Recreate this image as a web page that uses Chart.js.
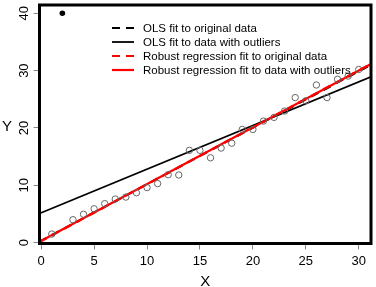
<!DOCTYPE html>
<html>
<head>
<meta charset="utf-8">
<script src="https://cdn.jsdelivr.net/npm/chart.js"></script>
<style>
  body { margin: 0; background: #fff; }
</style>
</head>
<body>
<canvas id="fitChart" width="376" height="287"></canvas>
<script>
// data
const xVals = [1, 3, 4, 5, 6, 7, 8, 9, 10, 11, 12, 13, 14, 15, 16, 17, 18, 19, 20, 21, 22, 23, 24, 25, 26, 27, 28, 29, 30];
const yVals = [1.5, 4.0, 4.95, 5.9, 6.8, 7.6, 7.95, 8.7, 9.6, 10.3, 11.85, 11.8, 16.1, 16.1, 14.8, 16.5, 17.35, 19.75, 19.75, 21.2, 21.85, 22.95, 25.3, 24.75, 27.5, 25.3, 28.5, 29.05, 30.2];
const outlierX = [2];
const outlierY = [40];

// fit lines, end points at the plot edges
const fitX = [-0.16, 31.16];
const olsOrigY = [0.2, 31.0];
const olsOutY = [5.08, 28.94];
const robOrigY = [0.1, 31.2];
const robOutY = [0.14, 31.15];

const legendLabels = [
  'OLS fit to original data',
  'OLS fit to data with outliers',
  'Robust regression fit to original data',
  'Robust regression fit to data with outliers'
];
const xTicks = [0, 5, 10, 15, 20, 25, 30];
const yTicks = [0, 10, 20, 30, 40];

function pts(xs, ys) {
  return xs.map(function(x, i) { return {x: x, y: ys[i]}; });
}

function fitLine(label, ys, color, width, dash, order) {
  return {
    label: label,
    data: pts(fitX, ys),
    showLine: true,
    borderColor: color,
    borderWidth: width,
    borderDash: dash,
    pointRadius: 0,
    fill: false,
    order: order
  };
}

const lineSets = [
  fitLine(legendLabels[0], olsOrigY, '#000', 1.8, [8, 6], 5),
  fitLine(legendLabels[1], olsOutY, '#000', 1.8, [], 4),
  fitLine(legendLabels[2], robOrigY, '#ff0000', 2.2, [8, 6], 3),
  fitLine(legendLabels[3], robOutY, '#ff0000', 2.2, [], 2)
];

const boxAndLegend = {
  id: 'boxAndLegend',
  afterDatasetsDraw: function(chart) {
    const a = chart.chartArea;
    const ctx = chart.ctx;
    ctx.save();
    ctx.strokeStyle = '#000';
    ctx.lineWidth = 3;
    ctx.strokeRect(a.left, a.top, a.right - a.left, a.bottom - a.top);
    ctx.restore();
  },
  afterDraw: function(chart) {
    const ctx = chart.ctx;
    ctx.save();
    ctx.font = '11.5px "Liberation Sans", Arial, sans-serif';
    ctx.textBaseline = 'middle';
    ctx.textAlign = 'left';
    lineSets.forEach(function(ds, i) {
      const y = 28 + i * 14;
      ctx.strokeStyle = ds.borderColor;
      ctx.lineWidth = ds.borderWidth;
      ctx.setLineDash(ds.borderDash);
      ctx.beginPath();
      ctx.moveTo(112, y);
      ctx.lineTo(134, y);
      ctx.stroke();
      ctx.setLineDash([]);
      ctx.fillStyle = '#000';
      ctx.fillText(ds.label, 143, y + 0.5);
    });
    // y tick labels, turned like R does them
    const ys = chart.scales.y;
    ctx.font = '13px "Liberation Sans", Arial, sans-serif';
    ctx.textAlign = 'center';
    yTicks.forEach(function(v) {
      ctx.save();
      ctx.translate(24, ys.getPixelForValue(v));
      ctx.rotate(-Math.PI / 2);
      ctx.fillText(String(v), 0, 0);
      ctx.restore();
    });
    // y axis title, upright
    ctx.font = '15px "Liberation Sans", Arial, sans-serif';
    ctx.fillText('Y', 7, 127);
    ctx.restore();
  }
};

const ctu = document.getElementById('fitChart');
const fitChart = new Chart(ctu, {
  type: 'scatter',
  data: {
    datasets: [{
      label: 'data',
      data: pts(xVals, yVals),
      pointRadius: 3.2,
      pointBorderWidth: 1,
      pointBorderColor: '#666',
      pointBackgroundColor: 'rgba(0,0,0,0)',
      order: 1
    }, {
      label: 'outlier',
      data: pts(outlierX, outlierY),
      pointRadius: 2.8,
      pointBorderWidth: 0,
      pointBackgroundColor: '#000',
      order: 0
    }].concat(lineSets)
  },
  options: {
    responsive: false,
    animation: false,
    devicePixelRatio: 1,
    layout: { padding: { top: 2.5, right: 2.5, left: 0, bottom: 0 } },
    plugins: { legend: { display: false }, tooltip: { enabled: false } },
    scales: {
      x: {
        type: 'linear',
        min: -0.16,
        max: 31.16,
        afterBuildTicks: function(scale) { scale.ticks = xTicks.map(function(v) { return {value: v}; }); },
        afterFit: function(scale) { scale.height = 43.5; },
        grid: { drawOnChartArea: false, drawTicks: true, tickLength: 6, color: '#888', lineWidth: 1 },
        border: { display: false },
        ticks: { padding: 4, color: '#000', font: { family: '"Liberation Sans", Arial', size: 13 }, maxRotation: 0 },
        title: { display: true, text: 'X', color: '#000', padding: 0, font: { family: '"Liberation Sans", Arial', size: 15, lineHeight: 0.75 } }
      },
      y: {
        type: 'linear',
        min: -0.15,
        max: 41.45,
        afterBuildTicks: function(scale) { scale.ticks = yTicks.map(function(v) { return {value: v}; }); },
        afterFit: function(scale) { scale.width = 39.5; },
        grid: { drawOnChartArea: false, drawTicks: true, tickLength: 6, color: '#888', lineWidth: 1 },
        border: { display: false },
        ticks: { display: false }
      }
    }
  },
  plugins: [boxAndLegend]
});
</script>
</body>
</html>
